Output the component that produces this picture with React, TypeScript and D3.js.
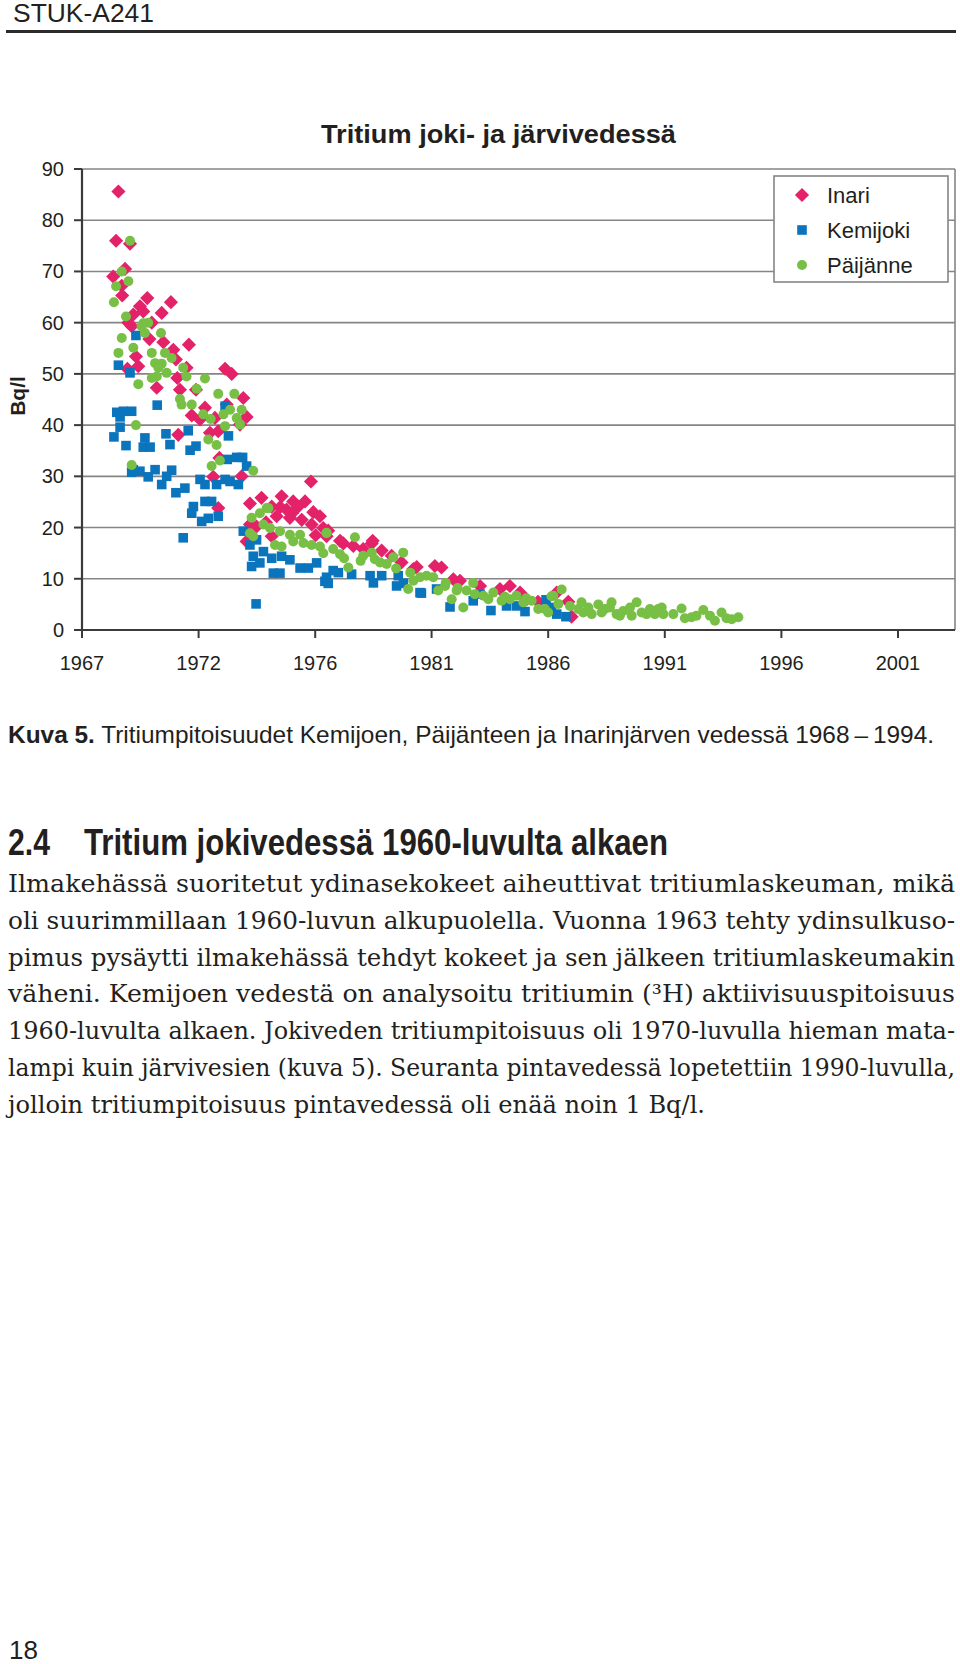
import * as d3 from 'd3';

// x values are decimal years, y values Bq/l
const inari: [number, number][] = [
  [1968.66, 85.6], [1968.56, 76.0], [1969.15, 75.4], [1968.94, 70.5], [1968.44, 69.0], [1968.80, 67.2],
  [1968.82, 65.3], [1969.88, 64.8], [1970.88, 64.0], [1969.57, 63.2], [1969.71, 62.2], [1970.49, 61.9],
  [1969.29, 61.6], [1969.08, 60.0], [1969.22, 59.3], [1970.07, 60.0], [1969.97, 56.8], [1970.56, 56.2],
  [1971.64, 55.7], [1970.98, 54.7], [1969.40, 53.4], [1969.50, 51.5], [1969.04, 51.0], [1971.09, 52.8],
  [1971.15, 49.2], [1970.28, 47.3], [1971.54, 51.2], [1971.26, 46.9], [1971.94, 46.9], [1973.17, 51.0],
  [1973.45, 50.0], [1973.94, 45.3], [1974.08, 41.6], [1972.32, 43.4], [1971.76, 41.9], [1972.11, 41.1],
  [1972.74, 41.4], [1971.19, 38.1], [1972.53, 38.5], [1972.88, 38.8], [1973.24, 44.0], [1973.80, 40.1],
  [1972.93, 33.6], [1972.67, 29.9], [1973.87, 30.0], [1976.80, 29.0], [1974.22, 24.7], [1974.71, 25.8],
  [1975.56, 26.1], [1976.05, 25.1], [1976.55, 25.1], [1975.14, 24.1], [1975.77, 23.5], [1976.26, 24.1],
  [1977.18, 22.2], [1975.91, 21.9], [1975.35, 22.2], [1976.41, 21.5], [1976.83, 20.6], [1977.32, 19.9],
  [1972.88, 23.8], [1974.22, 20.6], [1974.50, 20.2], [1974.08, 17.3], [1975.14, 18.3], [1977.46, 18.3],
  [1975.50, 24.0], [1976.00, 22.8], [1976.90, 23.0], [1977.00, 18.5], [1974.90, 21.0],
  [1977.53, 19.4], [1978.03, 17.4], [1978.17, 16.9], [1978.59, 16.4], [1979.01, 15.8], [1979.41, 17.4],
  [1979.37, 16.9], [1979.79, 15.5], [1980.21, 14.5], [1980.63, 13.2], [1981.13, 11.9], [1981.27, 12.3],
  [1982.04, 12.5], [1982.32, 12.2], [1982.82, 9.9], [1983.10, 9.6], [1983.95, 8.6], [1984.79, 8.0],
  [1985.21, 8.6], [1985.64, 7.3], [1985.92, 6.0], [1986.40, 5.5], [1987.19, 7.3], [1987.68, 5.5],
  [1987.82, 2.6],
];

const kemijoki: [number, number][] = [
  [1969.40, 57.5], [1968.66, 51.7], [1969.15, 50.2], [1970.30, 43.9], [1973.17, 43.7], [1968.59, 42.5],
  [1968.87, 42.7], [1969.22, 42.7], [1968.73, 41.6], [1968.73, 39.6], [1968.47, 37.7], [1968.98, 36.0],
  [1969.78, 37.5], [1969.71, 35.7], [1970.00, 35.7], [1970.67, 38.3], [1970.84, 36.2], [1971.61, 38.9],
  [1971.94, 35.9], [1971.69, 35.1], [1973.31, 37.9], [1973.66, 33.7], [1973.91, 33.7], [1973.26, 33.3],
  [1974.08, 32.0], [1969.29, 31.3], [1969.22, 30.8], [1969.57, 31.0], [1969.92, 29.9], [1970.21, 31.3],
  [1970.49, 28.4], [1970.91, 31.2], [1970.70, 30.0], [1971.09, 26.8], [1971.47, 27.7], [1972.11, 29.4],
  [1972.32, 28.4], [1972.81, 28.4], [1973.17, 29.4], [1973.38, 29.0], [1973.73, 28.4], [1971.83, 24.1],
  [1971.76, 22.8], [1972.32, 25.1], [1972.60, 25.1], [1972.88, 22.2], [1972.18, 21.2], [1972.46, 21.8],
  [1971.40, 18.0], [1973.94, 19.3], [1974.22, 16.6], [1974.50, 17.6], [1974.79, 15.3], [1974.36, 14.4],
  [1974.29, 12.4], [1974.64, 13.1], [1975.21, 11.1], [1975.14, 14.0], [1975.56, 14.4], [1975.91, 13.7],
  [1976.34, 12.1], [1976.69, 12.1], [1977.04, 13.1], [1977.39, 9.5], [1974.48, 5.1], [1975.49, 11.1],
  [1977.46, 10.3], [1977.53, 9.1], [1977.74, 11.6], [1977.96, 11.2], [1978.52, 10.9], [1979.30, 10.6],
  [1979.44, 9.2], [1979.79, 10.6], [1980.42, 8.6], [1980.49, 10.6], [1980.71, 9.1], [1981.41, 7.3],
  [1981.47, 7.2], [1982.11, 8.0], [1982.68, 4.5], [1983.66, 5.7], [1983.95, 7.0], [1984.41, 3.8],
  [1985.07, 4.7], [1985.49, 4.7], [1985.85, 3.6], [1986.74, 5.9], [1986.97, 4.4], [1987.19, 3.1],
  [1987.58, 2.6],
];

const paijanne: [number, number][] = [
  [1969.15, 76.0], [1968.80, 70.0], [1969.08, 68.1], [1968.56, 67.1], [1968.47, 64.0], [1968.98, 61.2],
  [1969.71, 59.9], [1969.92, 60.0], [1969.64, 59.3], [1969.78, 58.0], [1970.46, 58.0], [1968.80, 57.0],
  [1969.29, 55.1], [1968.66, 54.1], [1970.07, 54.1], [1970.63, 54.1], [1970.91, 53.1], [1970.21, 52.1],
  [1970.49, 52.0], [1970.35, 51.2], [1970.07, 49.2], [1970.28, 49.5], [1970.70, 50.2], [1971.40, 51.2],
  [1971.54, 49.5], [1969.50, 48.0], [1972.32, 49.1], [1971.97, 47.1], [1971.26, 45.1], [1971.33, 44.0],
  [1971.76, 44.0], [1972.88, 46.1], [1973.56, 46.1], [1972.25, 42.1], [1972.56, 41.2], [1973.10, 42.1],
  [1973.38, 43.0], [1973.66, 41.4], [1973.87, 43.0], [1973.17, 39.8], [1973.80, 40.1], [1972.46, 37.2],
  [1972.81, 36.1], [1969.40, 40.0], [1969.22, 32.2], [1972.60, 32.0], [1972.95, 33.1], [1974.36, 31.1],
  [1974.29, 21.9], [1974.64, 22.8], [1974.93, 23.8], [1975.00, 23.8], [1974.22, 18.9], [1974.36, 18.3],
  [1974.79, 20.6], [1975.07, 19.9], [1975.49, 19.3], [1975.91, 18.6], [1976.34, 18.6], [1975.28, 16.6],
  [1975.56, 16.3], [1976.05, 17.3], [1976.48, 17.0], [1976.83, 16.6], [1977.18, 16.3], [1977.46, 18.9],
  [1977.32, 15.0], [1977.46, 19.0], [1977.74, 15.8], [1978.03, 14.8], [1978.20, 14.0], [1978.38, 12.2],
  [1978.66, 18.1], [1978.90, 13.5], [1979.01, 14.5], [1979.37, 15.1], [1979.50, 13.8], [1979.72, 13.2],
  [1980.00, 12.9], [1980.28, 14.2], [1980.40, 12.0], [1980.70, 15.1], [1980.91, 8.0], [1981.00, 11.2],
  [1981.13, 9.6], [1981.41, 10.3], [1981.69, 10.6], [1981.97, 10.3], [1982.18, 7.7], [1982.47, 8.6],
  [1982.50, 9.2], [1982.75, 6.0], [1982.96, 7.7], [1983.00, 8.2], [1983.24, 4.4], [1983.38, 7.7],
  [1983.66, 9.2], [1983.73, 7.0], [1984.09, 6.7], [1984.30, 6.0], [1984.51, 7.3], [1984.86, 5.7],
  [1985.00, 6.5], [1985.21, 6.0], [1985.49, 6.7], [1985.78, 5.4], [1985.90, 6.2], [1986.13, 5.7],
  [1986.41, 4.1], [1986.69, 4.1], [1986.83, 3.4], [1986.97, 6.6], [1987.05, 6.7], [1987.26, 5.1],
  [1987.40, 7.9], [1987.75, 4.7], [1988.10, 4.1], [1988.24, 5.4], [1988.31, 3.4], [1988.53, 4.4],
  [1988.67, 3.1], [1988.95, 5.0], [1989.09, 3.4], [1989.23, 4.1], [1989.44, 4.4], [1989.51, 5.4],
  [1989.72, 3.1], [1989.86, 2.8], [1990.00, 3.7], [1990.29, 4.4], [1990.36, 2.8], [1990.57, 5.4],
  [1990.78, 3.4], [1990.99, 3.1], [1991.13, 4.1], [1991.34, 3.1], [1991.48, 4.1], [1991.63, 4.4],
  [1991.70, 3.1], [1992.12, 3.1], [1992.47, 4.2], [1992.61, 2.3], [1992.89, 2.5], [1993.10, 2.8],
  [1993.39, 3.9], [1993.67, 2.8], [1993.88, 1.8], [1994.16, 3.4], [1994.37, 2.3], [1994.59, 2.1],
  [1994.87, 2.5],
];

// date axis ticks (decimal years) and their printed labels
const xTicks = [1967.12, 1972.05, 1976.98, 1981.9, 1986.83, 1991.76, 1996.69, 2001.62];
const xTickLabels = ['1967', '1972', '1976', '1981', '1986', '1991', '1996', '2001'];
const yTicks = [0, 10, 20, 30, 40, 50, 60, 70, 80, 90];

const seriesNames = ['Inari', 'Kemijoki', 'Päijänne'];
const colors = ['#e4226a', '#0a74bd', '#78bf45'];

const bodyLines = [
  'Ilmakehässä suoritetut ydinasekokeet aiheuttivat tritiumlaskeuman, mikä',
  'oli suurimmillaan 1960-luvun alkupuolella. Vuonna 1963 tehty ydinsulkuso-',
  'pimus pysäytti ilmakehässä tehdyt kokeet ja sen jälkeen tritiumlaskeumakin',
  'väheni. Kemijoen vedestä on analysoitu tritiumin (³H) aktiivisuuspitoisuus',
  '1960-luvulta alkaen. Jokiveden tritiumpitoisuus oli 1970-luvulla hieman mata-',
  'lampi kuin järvivesien (kuva 5). Seuranta pintavedessä lopetettiin 1990-luvulla,',
  'jolloin tritiumpitoisuus pintavedessä oli enää noin 1 Bq/l.',
];

const sans = "'Liberation Sans', Arial, sans-serif";
const serif = "'DejaVu Serif', 'Liberation Serif', serif";
const ink = '#231f20';

const App = () => {
  const width = 960;
  const height = 1664;
  const plot = { left: 82, right: 955, top: 169, bottom: 630 };

  const xScale = d3.scaleLinear().domain([1967.12, 2004.03]).range([plot.left, plot.right]);
  const yScale = d3.scaleLinear().domain([0, 90]).range([plot.bottom, plot.top]);

  const diamond = d3.symbol().type(d3.symbolSquare).size(100)();
  const square = d3.symbol().type(d3.symbolSquare).size(92)();

  const renderMarker = (i: number, x: number, y: number, key: any) => {
    if (i === 0)
      return <path key={key} d={diamond} fill={colors[0]} transform={`translate(${x},${y}) rotate(45)`} />;
    if (i === 1)
      return <path key={key} d={square} fill={colors[1]} transform={`translate(${x},${y})`} />;
    return <circle key={key} cx={x} cy={y} r={5} fill={colors[2]} />;
  };

  const allSeries = [inari, kemijoki, paijanne];

  return (
    <div style={{ position: 'absolute', left: 0, top: 0 }}>
      <svg width={width} height={height} style={{ display: 'block', background: '#fff' }}>
        {/* page header */}
        <text x={13} y={22} fontFamily={sans} fontSize={25} fill={ink} textLength={141} lengthAdjust="spacingAndGlyphs">STUK-A241</text>
        <line x1={6} x2={956} y1={31.5} y2={31.5} stroke="#2b2b2b" strokeWidth={3} />

        {/* chart title */}
        <text x={321} y={143} fontFamily={sans} fontSize={26} fontWeight="bold" fill={ink}
          textLength={355} lengthAdjust="spacingAndGlyphs">Tritium joki- ja järvivedessä</text>

        {/* grid */}
        {yTicks.map((t) => (
          <g key={t}>
            {t > 0 && (
              <line x1={plot.left} x2={plot.right} y1={yScale(t)} y2={yScale(t)} stroke="#858585" strokeWidth={1.6} />
            )}
            <line x1={plot.left - 8} x2={plot.left} y1={yScale(t)} y2={yScale(t)} stroke="#3a3a3a" strokeWidth={2} />
            <text x={64} y={yScale(t) + 7} textAnchor="end" fontFamily={sans} fontSize={20} fill={ink}>{t}</text>
          </g>
        ))}
        <line x1={plot.right} x2={plot.right} y1={plot.top} y2={plot.bottom} stroke="#858585" strokeWidth={1.6} />

        {/* points */}
        {allSeries.map((data, i) => (
          <g key={seriesNames[i]}>
            {data.map((d, j) => renderMarker(i, xScale(d[0]), yScale(d[1]), j))}
          </g>
        ))}

        {/* axes */}
        <line x1={plot.left} x2={plot.left} y1={plot.top} y2={plot.bottom} stroke="#3a3a3a" strokeWidth={2.2} />
        <line x1={plot.left - 8} x2={plot.right} y1={plot.bottom} y2={plot.bottom} stroke="#3a3a3a" strokeWidth={2.2} />
        {xTicks.map((t, i) => (
          <g key={t}>
            <line x1={xScale(t)} x2={xScale(t)} y1={plot.bottom} y2={plot.bottom + 8} stroke="#3a3a3a" strokeWidth={2} />
            <text x={xScale(t)} y={670} textAnchor="middle" fontFamily={sans} fontSize={20} fill={ink}>{xTickLabels[i]}</text>
          </g>
        ))}

        <text transform="translate(25,396) rotate(-90)" textAnchor="middle" fontFamily={sans} fontSize={21}
          fontWeight="bold" fill={ink}>Bq/l</text>

        {/* legend */}
        <rect x={774} y={176} width={174} height={106} fill="#fff" stroke="#858585" strokeWidth={1.6} />
        {seriesNames.map((name, i) => (
          <g key={name}>
            {renderMarker(i, 802, 195 + i * 35, 'm')}
            <text x={827} y={203 + i * 35} fontFamily={sans} fontSize={22} fill={ink}>{name}</text>
          </g>
        ))}

        {/* caption */}
        <text x={8} y={743} fontFamily={sans} fontSize={24} fill={ink} textLength={926} lengthAdjust="spacingAndGlyphs">
          <tspan fontWeight="bold">Kuva 5.</tspan> Tritiumpitoisuudet Kemijoen, Päijänteen ja Inarinjärven vedessä 1968{'\u2009–\u2009'}1994.
        </text>

        {/* section heading */}
        <text x={8} y={855} fontFamily={sans} fontSize={36} fontWeight="bold" fill={ink} textLength={42} lengthAdjust="spacingAndGlyphs">2.4</text>
        <text x={84} y={855} fontFamily={sans} fontSize={36} fontWeight="bold" fill={ink} textLength={584} lengthAdjust="spacingAndGlyphs">Tritium jokivedessä 1960-luvulta alkaen</text>

        {bodyLines.map((line, i) => (
          <text key={i} x={8} y={892 + i * 36.8} fontFamily={serif} fontSize={24} fill={ink}
            textLength={i === bodyLines.length - 1 ? 697 : 947} lengthAdjust="spacingAndGlyphs">{line}</text>
        ))}

        <text x={9} y={1659} fontFamily={sans} fontSize={26} fill={ink}>18</text>
      </svg>
    </div>
  );
};

export default App;
